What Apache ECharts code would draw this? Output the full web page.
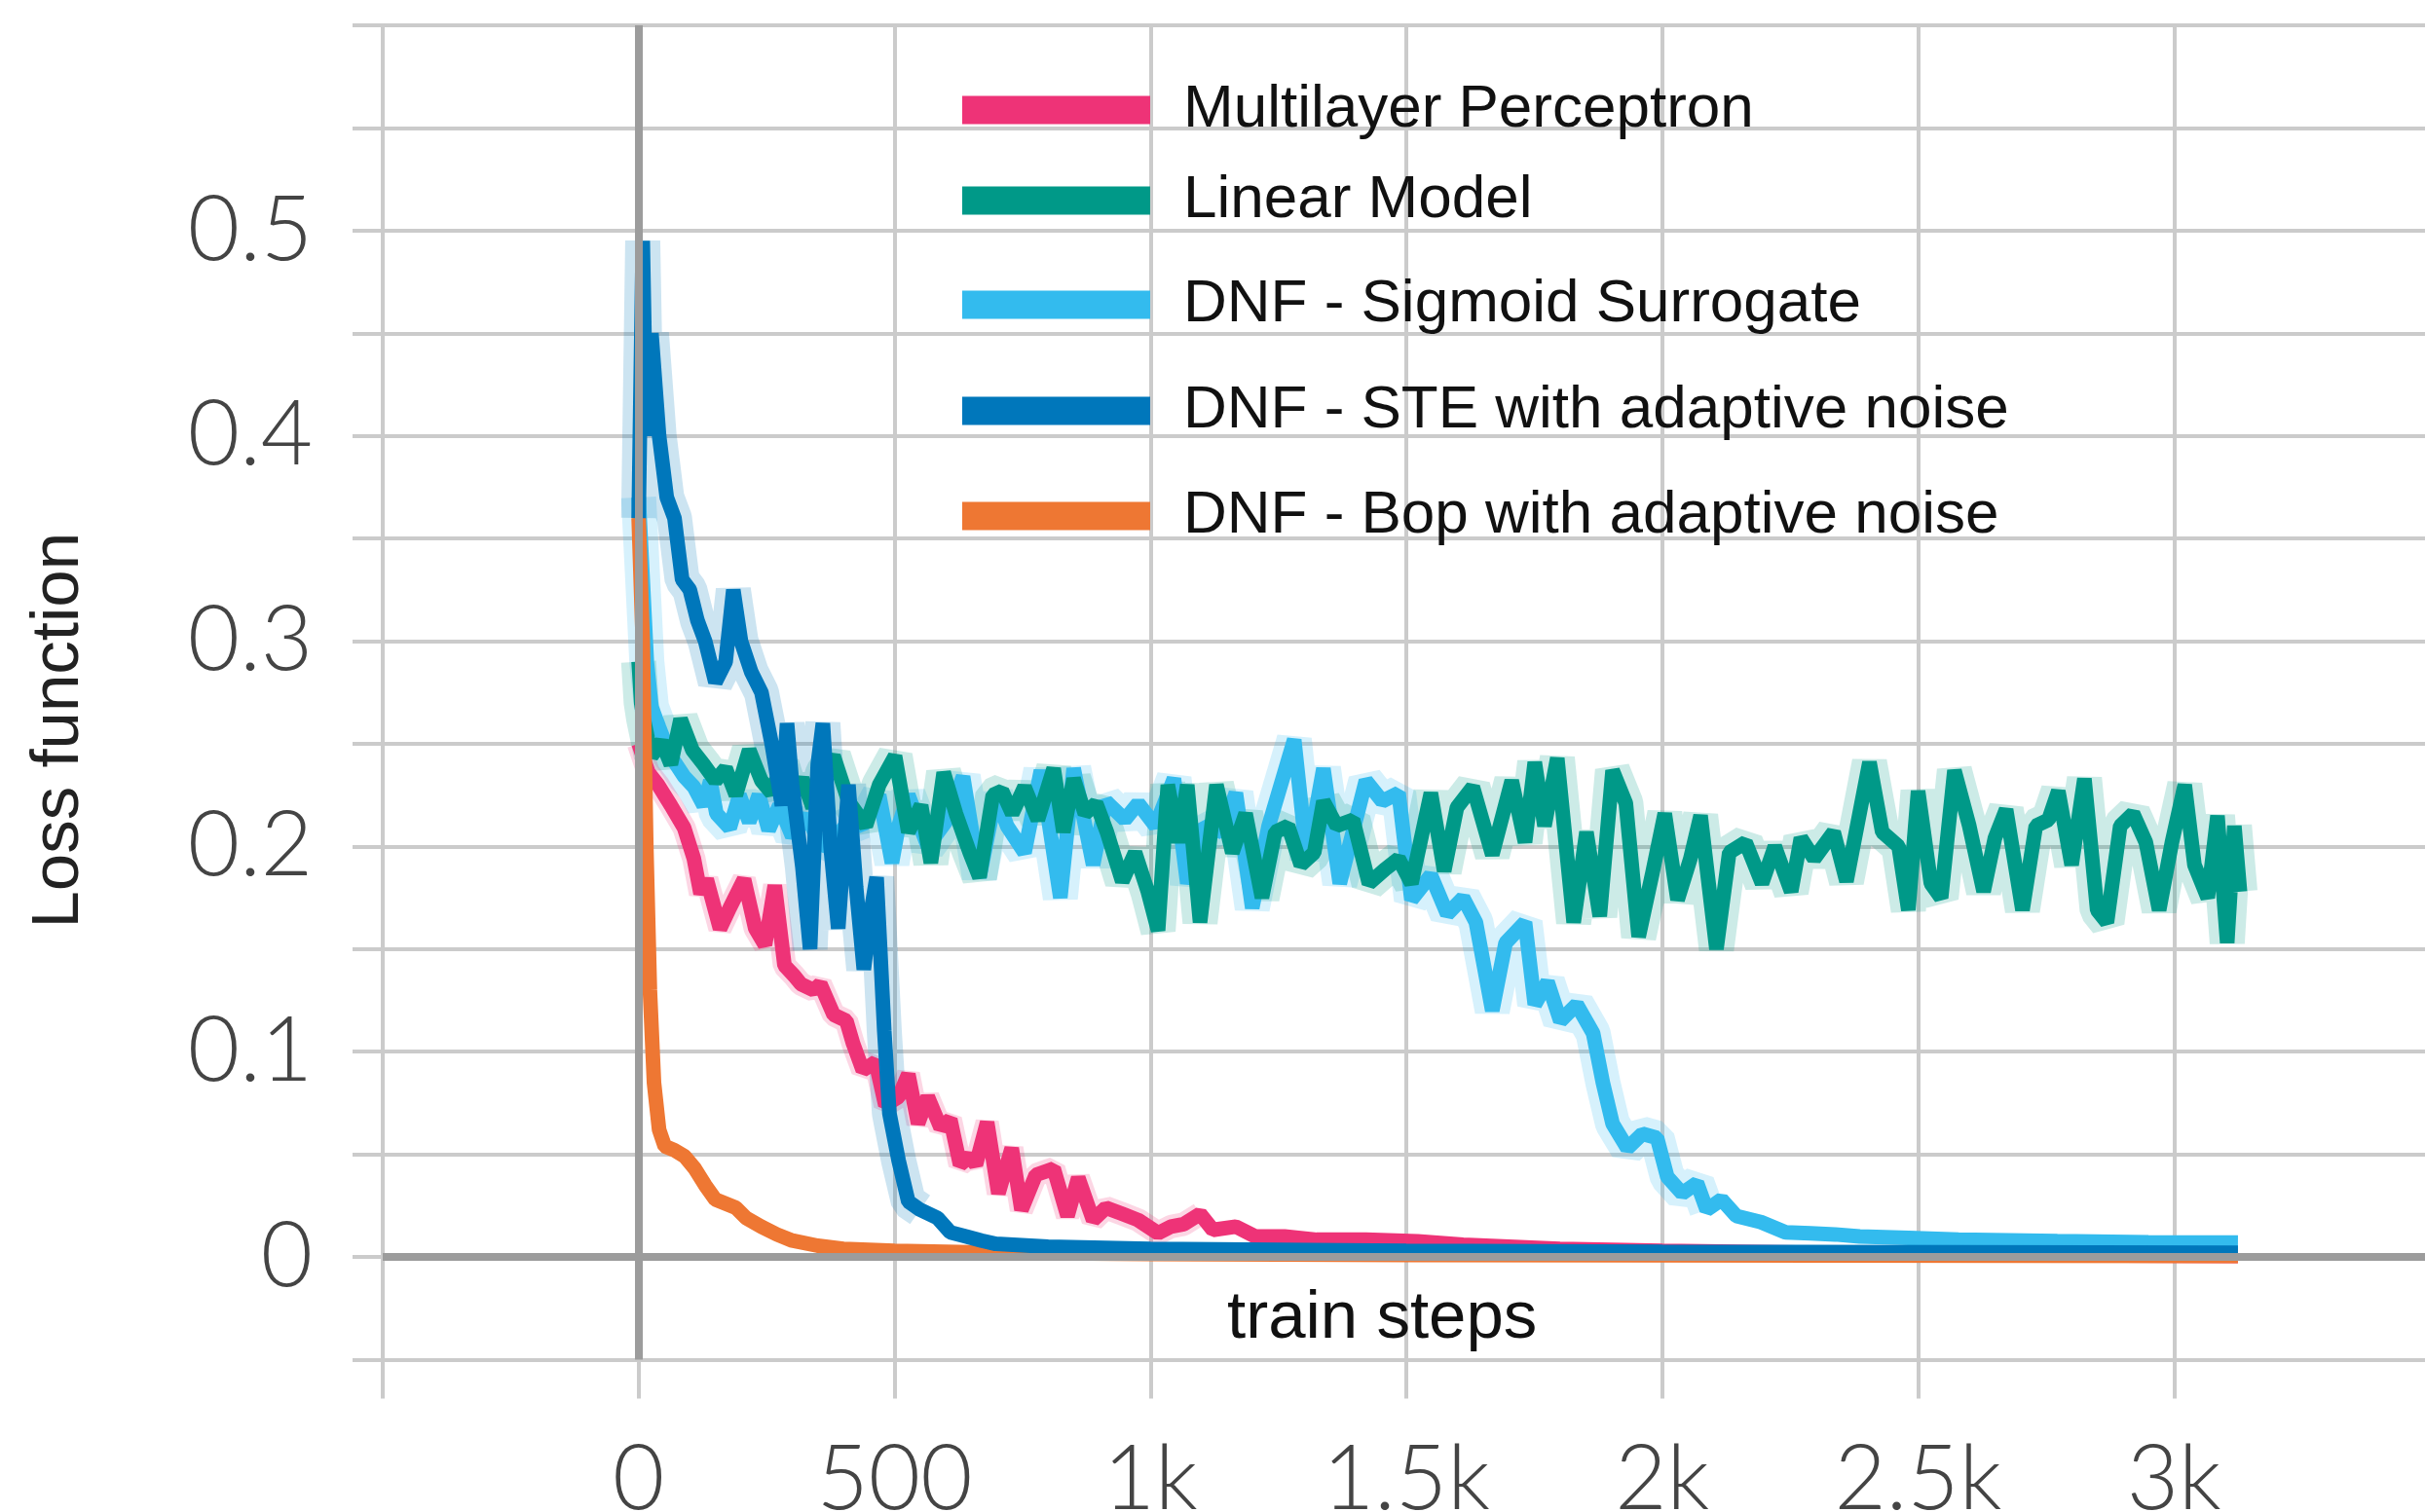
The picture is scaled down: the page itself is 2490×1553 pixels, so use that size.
<!DOCTYPE html>
<html><head><meta charset="utf-8">
<script src="https://cdn.jsdelivr.net/npm/echarts@6/dist/echarts.min.js"></script>
<style>html,body{margin:0;padding:0;background:#fff}#c{width:2490px;height:1553px}</style>
</head><body><div id="c"></div>
<script>
// ---------- DATA ----------
const xTickValues = [0, 500, 1000, 1500, 2000, 2500, 3000];
const xTickLabels = ['0', '500', '1k', '1.5k', '2k', '2.5k', '3k'];
const yTickValues = [0, 0.1, 0.2, 0.3, 0.4, 0.5];
const yTickLabels = ['0', '0.1', '0.2', '0.3', '0.4', '0.5'];

const seriesNames = ['Multilayer Perceptron', 'Linear Model', 'DNF - Sigmoid Surrogate',
  'DNF - STE with adaptive noise', 'DNF - Bop with adaptive noise'];

const linearSteps = [0,5,10,25,45,63,82,105,127,150,170,190,216,240,260,280,300,320,340,360,
  381,410,444,470,501,527,552,571,596,620,647,666,692,710,730,754,780,811,830,850,
  872,894,915,945,970,995,1015,1034,1055,1072,1097,1129,1160,1186,1218,1244,1269,1294,1320,1338,
  1364,1396,1427,1459,1485,1510,1548,1574,1599,1630,1668,1706,1732,1751,1770,1795,1827,1852,1878,1903,
  1929,1954,1980,2005,2030,2055,2075,2106,2131,2163,2195,2220,2252,2271,2297,2335,2360,2405,2430,2462,
  2481,2500,2525,2545,2571,2600,2628,2650,2672,2704,2730,2755,2774,2800,2825,2850,2869,2895,2920,2945,
  2971,2996,3021,3040,3066,3085,3104,3118,3129];
const linearLoss = [0.29,0.27,0.262,0.244,0.251,0.24,0.262,0.247,0.24,0.232,0.238,0.225,0.247,0.232,0.226,0.24,0.224,0.233,0.219,0.236,
  0.244,0.222,0.21,0.23,0.244,0.207,0.22,0.192,0.236,0.216,0.197,0.185,0.225,0.227,0.216,0.229,0.213,0.238,0.207,0.233,
  0.216,0.221,0.207,0.183,0.197,0.178,0.159,0.23,0.202,0.23,0.163,0.23,0.197,0.216,0.175,0.207,0.21,0.191,0.197,0.222,
  0.21,0.213,0.182,0.189,0.194,0.182,0.226,0.188,0.219,0.229,0.196,0.232,0.202,0.241,0.21,0.243,0.163,0.207,0.166,0.237,
  0.221,0.156,0.186,0.216,0.174,0.194,0.215,0.15,0.197,0.202,0.182,0.2,0.178,0.204,0.194,0.207,0.183,0.241,0.207,0.2,
  0.169,0.227,0.182,0.175,0.237,0.21,0.178,0.204,0.218,0.169,0.21,0.213,0.227,0.191,0.233,0.169,0.163,0.21,0.216,0.202,
  0.169,0.202,0.23,0.191,0.175,0.215,0.153,0.21,0.178];

const sigmoidSteps = [0,8,16,25,40,60,89,108,127,140,152,178,197,216,235,254,275,300,330,355,
  381,410,437,470,495,508,527,565,600,634,666,698,720,754,786,824,850,888,913,950,
  976,1010,1046,1072,1104,1140,1167,1199,1231,1281,1306,1338,1370,1421,1453,1485,1510,1548,1580,1611,
  1636,1668,1694,1732,1751,1776,1801,1833,1865,1884,1903,1932,1961,1990,2010,2039,2068,2087,2116,2145,
  2193,2241,2290,2338,2386,2482,2579,2772,2950,3125];
const sigmoidLoss = [0.37,0.33,0.29,0.268,0.258,0.245,0.234,0.229,0.22,0.232,0.216,0.209,0.225,0.212,0.225,0.208,0.22,0.205,0.215,0.2,
  0.203,0.212,0.21,0.225,0.192,0.21,0.225,0.2,0.212,0.234,0.185,0.225,0.21,0.197,0.237,0.175,0.238,0.191,0.222,0.213,
  0.221,0.21,0.233,0.182,0.21,0.207,0.226,0.17,0.21,0.252,0.194,0.238,0.182,0.232,0.222,0.226,0.174,0.186,0.167,0.175,
  0.163,0.12,0.153,0.163,0.123,0.134,0.115,0.123,0.109,0.085,0.065,0.053,0.06,0.058,0.039,0.031,0.036,0.023,0.028,0.02,
  0.017,0.012,0.0115,0.011,0.01,0.0093,0.0085,0.0077,0.0072,0.007];

const mlpSteps = [0,19,38,63,89,108,121,133,159,178,206,228,247,266,285,304,317,342,355,381,
  406,419,438,463,482,508,527,546,565,590,609,628,647,659,681,703,729,748,776,811,
  838,859,888,913,945,976,1015,1040,1065,1097,1122,1167,1205,1262,1325,1421,1522,1611,1800,2000,
  2300,2600,2900,3125];
const mlpLoss = [0.25,0.236,0.23,0.22,0.209,0.194,0.177,0.184,0.16,0.17,0.184,0.16,0.152,0.181,0.142,0.137,0.133,0.13,0.133,0.118,
  0.115,0.104,0.091,0.095,0.074,0.078,0.089,0.065,0.078,0.063,0.067,0.045,0.049,0.045,0.0656,0.031,0.053,0.023,0.04,0.043,
  0.02,0.0386,0.018,0.024,0.021,0.018,0.0116,0.0148,0.016,0.021,0.0132,0.0148,0.01,0.01,0.0084,0.0084,0.0076,0.006,0.004,0.003,
  0.002,0.001,0.0008,0.0005];

const bopSteps = [0,8,15,22,30,40,51,70,90,110,130,150,170,190,210,240,270,300,350,400,500,700,1000,1500,3125];
const bopLoss = [0.36,0.3,0.2,0.13,0.085,0.062,0.054,0.052,0.049,0.043,0.035,0.028,0.026,0.024,0.019,0.0147,0.011,0.008,0.0055,0.004,
  0.003,0.002,0.0015,0.001,0.0005];

const steSteps = [0,8,15,25,40,55,70,85,100,115,130,150,170,185,200,220,240,260,280,290,
  300,320,335,350,360,375,390,410,425,440,455,465,480,490,508,527,550,584,609,640,
  670,698,800,1000,1500,2000,3125];
const steLoss = [0.36,0.495,0.40,0.45,0.40,0.37,0.36,0.33,0.325,0.31,0.30,0.28,0.29,0.325,0.30,0.285,0.275,0.25,0.22,0.26,
  0.23,0.19,0.15,0.24,0.26,0.2,0.16,0.23,0.18,0.14,0.17,0.185,0.11,0.07,0.047,0.027,0.023,0.019,0.012,0.01,
  0.008,0.0064,0.005,0.004,0.003,0.0025,0.002];

// ---------- CHART ----------
function pairs(steps, vals, maxStep) {
  const out = [];
  for (let i = 0; i < steps.length; i++) {
    if (maxStep === undefined || steps[i] <= maxStep) out.push([steps[i], vals[i]]);
  }
  return out;
}
const COL = {
  mlp: '#EE3377', lin: '#009988', sig: '#33BBEE', ste: '#0077BB', bop: '#EE7733'
};
const LW = 15;
function mainLine(name, data, color) {
  return {
    type: 'line', name: name, data: data, symbol: 'none', showSymbol: false,
    lineStyle: { width: LW, color: color, join: 'bevel' }, itemStyle: { color: color },
    emphasis: { disabled: true }, z: 3, animation: false
  };
}
function haloLine(name, data, color, width, op) {
  return {
    type: 'line', name: name + ' (raw)', data: data, symbol: 'none', showSymbol: false,
    lineStyle: { width: width, color: color, opacity: op, join: 'bevel' }, itemStyle: { color: color },
    emphasis: { disabled: true }, silent: true, z: 2, animation: false
  };
}

const legendCenters = [113, 206, 313, 422, 530];
const legends = seriesNames.map((n, i) => ({
  data: [n], left: 988, top: legendCenters[i] - 31, orient: 'horizontal',
  itemWidth: 193, itemHeight: 29, icon: 'rect', padding: 0, selectedMode: false,
  textStyle: { fontSize: 62, fontFamily: 'Liberation Sans', color: '#111', lineHeight: 62, padding: [0, 0, 0, 29] }
}));

const chart = echarts.init(document.getElementById('c'), null, { renderer: 'canvas' });
const gridColor = '#cbcbcb';
const option = {
  backgroundColor: '#ffffff',
  animation: false,
  title: {
    text: 'train steps', left: 1260, top: 1320, padding: 0,
    textStyle: { fontSize: 69, fontFamily: 'Liberation Sans', fontWeight: 'normal', color: '#111', lineHeight: 69 }
  },
  legend: legends,
  grid: { left: 393, top: 26, width: 2102, height: 1370.5, containLabel: false, outerBoundsMode: 'none' },
  xAxis: {
    type: 'value', min: -500, max: 3500, interval: 500,
    axisLine: { show: true, onZero: false, lineStyle: { color: gridColor, width: 4 } },
    axisTick: { show: true, inside: false, length: 40, lineStyle: { color: gridColor, width: 4 } },
    splitLine: { show: true, lineStyle: { color: gridColor, width: 4 } },
    axisLabel: {
      margin: 78, fontSize: 92, fontFamily: 'Lato', fontWeight: 300, color: '#444', lineHeight: 92,
      formatter: function (v) {
        const i = xTickValues.findIndex(t => Math.abs(t - v) < 1e-6);
        return i >= 0 ? xTickLabels[i] : '';
      }
    }
  },
  yAxis: {
    type: 'value', min: -0.05, max: 0.6, interval: 0.05,
    name: 'Loss function', nameLocation: 'middle', nameRotate: 90, nameGap: 298,
    nameTextStyle: { fontSize: 69, fontFamily: 'Liberation Sans', color: '#222', lineHeight: 69, padding: [0, 78, 0, 0] },
    axisLine: { show: true, onZero: false, lineStyle: { color: gridColor, width: 4 } },
    axisTick: { show: true, inside: false, length: 31, lineStyle: { color: gridColor, width: 4 } },
    splitLine: { show: true, lineStyle: { color: gridColor, width: 4 } },
    axisLabel: {
      margin: 72, fontSize: 92, fontFamily: 'Lato', fontWeight: 300, color: '#444',
      formatter: function (v) {
        const i = yTickValues.findIndex(t => Math.abs(t - v) < 1e-6);
        return i >= 0 ? yTickLabels[i] : '';
      }
    }
  },
  series: [
    {
      type: 'line', name: 'zero-lines', data: [], silent: true, z: 1, animation: false,
      markLine: {
        silent: true, symbol: ['none', 'none'], label: { show: false }, animation: false,
        lineStyle: { type: 'solid', color: '#9c9c9c', width: 8 },
        emphasis: { disabled: true },
        data: [{ yAxis: 0 }, { xAxis: 0 }]
      }
    },
    haloLine(seriesNames[2], pairs(sigmoidSteps, sigmoidLoss, 2100), COL.sig, 36, 0.2),
    haloLine(seriesNames[1], pairs(linearSteps, linearLoss), COL.lin, 36, 0.2),
    haloLine(seriesNames[0], pairs(mlpSteps, mlpLoss, 1100), COL.mlp, 24, 0.2),
    haloLine(seriesNames[3], pairs(steSteps, steLoss, 560), COL.ste, 36, 0.2),
    mainLine(seriesNames[2], pairs(sigmoidSteps, sigmoidLoss), COL.sig),
    mainLine(seriesNames[1], pairs(linearSteps, linearLoss), COL.lin),
    mainLine(seriesNames[0], pairs(mlpSteps, mlpLoss), COL.mlp),
    mainLine(seriesNames[4], pairs(bopSteps, bopLoss), COL.bop),
    mainLine(seriesNames[3], pairs(steSteps, steLoss), COL.ste)
  ]
};
chart.setOption(option);
</script></body></html>
